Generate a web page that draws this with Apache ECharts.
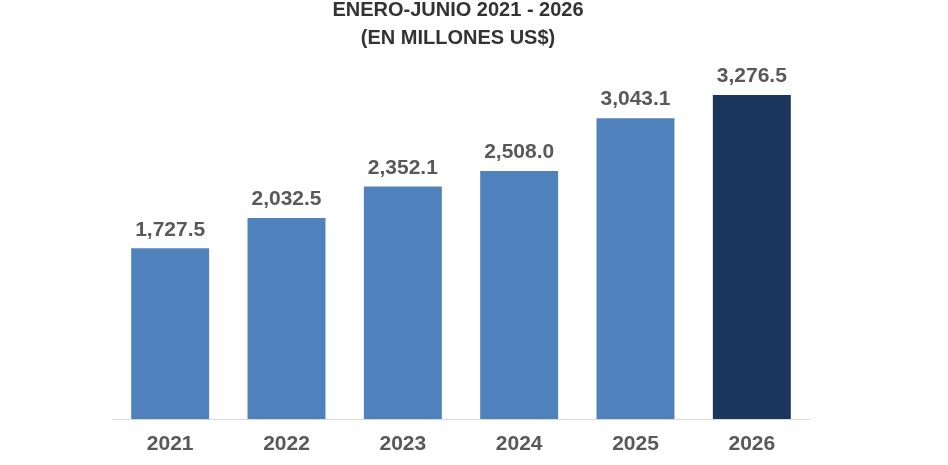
<!DOCTYPE html>
<html>
<head>
<meta charset="utf-8">
<script src="https://cdn.jsdelivr.net/npm/echarts@6/dist/echarts.min.js"></script>
<style>
  html, body { margin: 0; padding: 0; background: #fff; }
  #chart { width: 948px; height: 465px; }
</style>
</head>
<body>
<div id="chart"></div>
<script>
const years = ['2021', '2022', '2023', '2024', '2025', '2026'];
const values = [1727.5, 2032.5, 2352.1, 2508.0, 3043.1, 3276.5];
const barColors = ['#4f81bd', '#4f81bd', '#4f81bd', '#4f81bd', '#4f81bd', '#1b365d'];

const fmt = v => v.toLocaleString('en-US', { minimumFractionDigits: 1, maximumFractionDigits: 1 });

const chart = echarts.init(document.getElementById('chart'));
chart.setOption({
  animation: false,
  title: {
    text: 'ENERO-JUNIO 2021 - 2026\n(EN MILLONES US$)',
    left: 458,
    textAlign: 'center',
    top: -4,
    padding: 0,
    textStyle: {
      fontFamily: 'Liberation Sans, Arial',
      fontWeight: 'bold',
      fontSize: 20,
      lineHeight: 28,
      color: '#333333'
    }
  },
  grid: { left: 112, right: 138, top: 73, bottom: 46 },
  xAxis: {
    type: 'category',
    data: years,
    axisLine: { lineStyle: { color: '#d9d9d9', width: 1 } },
    axisTick: { show: false },
    axisLabel: {
      margin: 15,
      fontFamily: 'Liberation Sans, Arial',
      fontWeight: 'bold',
      fontSize: 21,
      color: '#595959'
    }
  },
  yAxis: {
    type: 'value',
    min: 0,
    max: 3500,
    show: false,
    splitLine: { show: false }
  },
  series: [{
    type: 'bar',
    barWidth: '67%',
    data: values.map((v, i) => ({ value: v, itemStyle: { color: barColors[i] } })),
    label: {
      show: true,
      position: 'top',
      distance: 8,
      formatter: p => fmt(p.value),
      fontFamily: 'Liberation Sans, Arial',
      fontWeight: 'bold',
      fontSize: 21,
      color: '#595959'
    }
  }]
});
</script>
</body>
</html>
